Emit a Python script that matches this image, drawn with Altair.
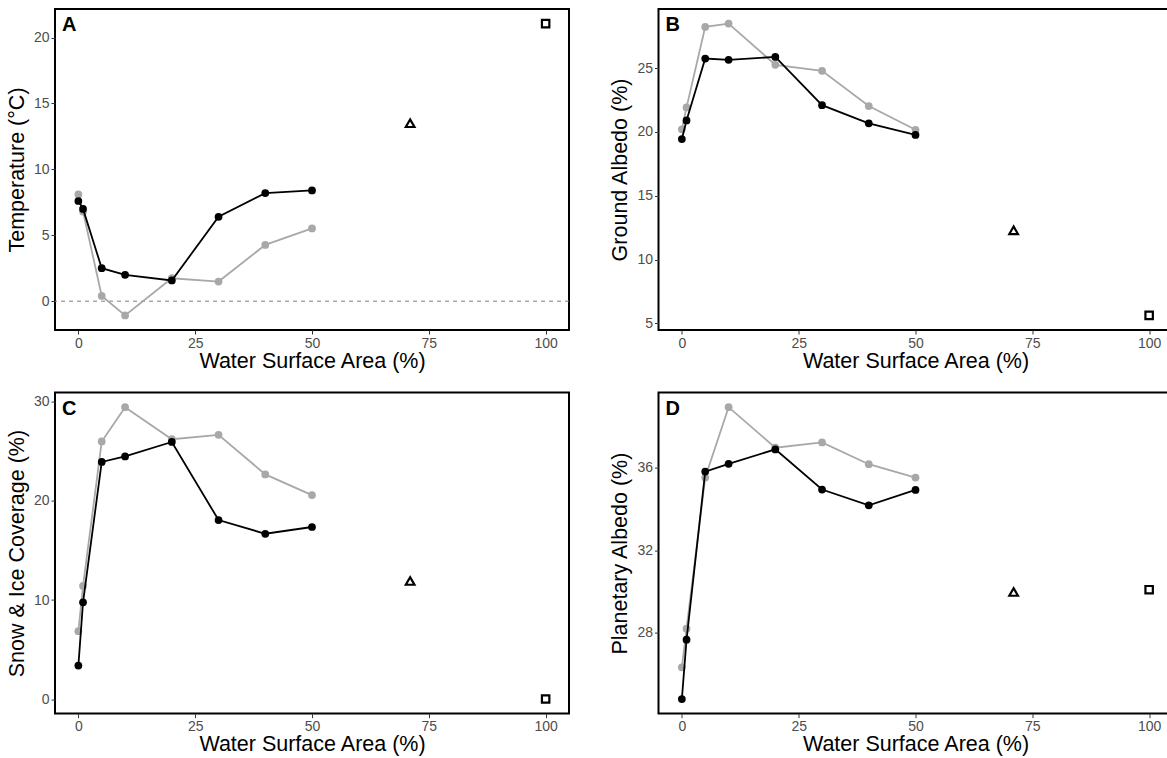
import altair as alt
import pandas as pd

# x positions (water surface area, %)
water = [0, 1, 5, 10, 20, 30, 40, 50]
triangle_x = 71
square_x = 100
x_ticks = [0, 25, 50, 75, 100]

# Panel A: Temperature (°C)
temp_black = [7.6, 7.0, 2.5, 2.0, 1.57, 6.4, 8.2, 8.4]
temp_grey = [8.1, 6.8, 0.4, -1.08, 1.74, 1.49, 4.27, 5.52]
temp_tri = 13.5
temp_sq = 21.06
temp_ticks = [0, 5, 10, 15, 20]

# Panel B: Ground Albedo (%)
galb_black = [19.44, 20.9, 25.75, 25.65, 25.88, 22.1, 20.67, 19.76]
galb_grey = [20.2, 21.92, 28.23, 28.49, 25.26, 24.79, 22.03, 20.17]
galb_tri = 12.29
galb_sq = 5.62
galb_ticks = [5, 10, 15, 20, 25]

# Panel C: Snow & Ice Coverage (%)
snow_black = [3.41, 9.78, 23.9, 24.45, 25.9, 18.05, 16.67, 17.35]
snow_grey = [6.87, 11.42, 25.95, 29.4, 26.18, 26.62, 22.64, 20.56]
snow_tri = 11.92
snow_sq = 0.05
snow_ticks = [0, 10, 20, 30]

# Panel D: Planetary Albedo (%)
palb_black = [24.77, 27.65, 35.82, 36.2, 36.9, 34.95, 34.18, 34.93]
palb_grey = [26.31, 28.19, 35.53, 38.95, 36.98, 37.24, 36.18, 35.53]
palb_tri = 29.97
palb_sq = 30.08
palb_ticks = [28, 32, 36]

FONT = "Liberation Sans"
GREY = "#a8a8a8"
W, H = 514, 321


def panel(label, ytitle, black, grey, tri, sq, yticks, zero_line=False):
    allv = black + grey + [tri, sq]
    lo, hi = min(allv), max(allv)
    pad = 0.05 * (hi - lo)
    xs = alt.Scale(domain=[-5, 105], nice=False, zero=False)
    ys = alt.Scale(domain=[lo - pad, hi + pad], nice=False, zero=False)
    xenc = alt.X("x:Q", scale=xs,
                 axis=alt.Axis(values=x_ticks, title="Water Surface Area (%)",
                               titlePadding=0))
    yenc = alt.Y("y:Q", scale=ys,
                 axis=alt.Axis(values=yticks, title=ytitle, titlePadding=5))

    gdf = pd.DataFrame({"x": water, "y": grey})
    bdf = pd.DataFrame({"x": water, "y": black})
    tdf = pd.DataFrame({"x": [triangle_x], "y": [tri]})
    sdf = pd.DataFrame({"x": [square_x], "y": [sq]})

    layers = []
    if zero_line:
        zdf = pd.DataFrame({"y": [0]})
        layers.append(alt.Chart(zdf).mark_rule(color="#7f7f7f", strokeWidth=1,
                                               strokeDash=[4, 4]).encode(
            y=alt.Y("y:Q", scale=ys)))
    layers += [
        alt.Chart(gdf).mark_line(color=GREY, strokeWidth=1.8).encode(x=xenc, y=yenc),
        alt.Chart(gdf).mark_circle(color=GREY, size=60, opacity=1).encode(x=xenc, y=yenc),
        alt.Chart(bdf).mark_line(color="black", strokeWidth=1.8).encode(x=xenc, y=yenc),
        alt.Chart(bdf).mark_circle(color="black", size=60, opacity=1).encode(x=xenc, y=yenc),
        alt.Chart(tdf).mark_point(shape="triangle-up", filled=False, color="black",
                                  strokeWidth=2.2, size=75, opacity=1).encode(x=xenc, y=yenc),
        alt.Chart(sdf).mark_point(shape="square", filled=False, color="black",
                                  strokeWidth=2.2, size=55, opacity=1).encode(x=xenc, y=yenc),
        alt.Chart(pd.DataFrame({"t": [label]})).mark_text(
            font=FONT, fontSize=20, fontWeight="bold", align="left",
            baseline="top", color="black").encode(
            text="t:N", x=alt.value(7), y=alt.value(6)),
    ]
    return alt.layer(*layers).properties(width=W, height=H)


A = panel("A", "Temperature (°C)", temp_black, temp_grey, temp_tri, temp_sq,
          temp_ticks, zero_line=True)
B = panel("B", "Ground Albedo (%)", galb_black, galb_grey, galb_tri, galb_sq, galb_ticks)
C = panel("C", "Snow & Ice Coverage (%)", snow_black, snow_grey, snow_tri, snow_sq, snow_ticks)
D = panel("D", "Planetary Albedo (%)", palb_black, palb_grey, palb_tri, palb_sq, palb_ticks)

chart = alt.concat(A, B, C, D, columns=2, spacing={"row": 62.6, "column": 89.5},
                   bounds="flush").properties(
    autosize=alt.AutoSizeParams(type="none"),
    padding={"left": 55, "top": 9, "right": 1112, "bottom": 749},
    background="white"
).configure_view(
    stroke="black", strokeWidth=2
).configure_axis(
    grid=False, domain=False, tickColor="#333333", tickSize=4, tickWidth=1,
    labelColor="#4d4d4d", labelFontSize=14, labelFont=FONT, labelPadding=2,
    titleFont=FONT, titleFontSize=21.5, titleFontWeight="normal", titleColor="black"
)

chart.save("out.html", embed_options={"renderer": "svg", "actions": False})
